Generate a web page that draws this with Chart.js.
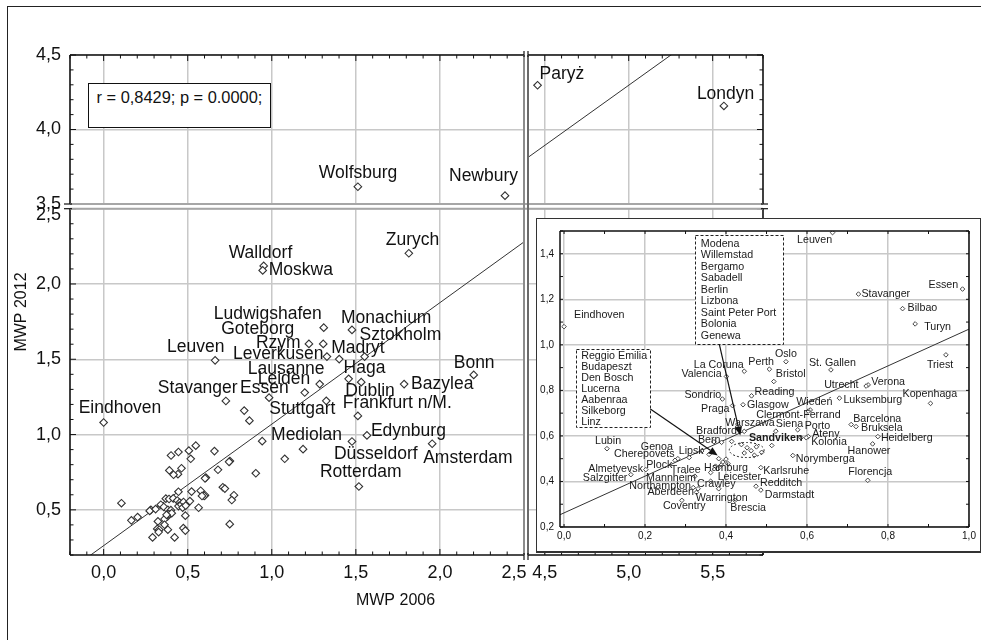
<!DOCTYPE html>
<html>
<head>
<meta charset="utf-8">
<script src="https://cdn.jsdelivr.net/npm/chart.js@4.4.1/dist/chart.umd.min.js"></script>
<style>
  html, body { margin: 0; padding: 0; background: #fff; overflow: hidden; }
  #fig { position: relative; width: 981px; height: 640px; overflow: hidden; background: #fff;
         font-family: "Liberation Sans", Arial, Helvetica, sans-serif; }
  #fig canvas.layer { position: absolute; left: 0; top: 0; }
  #frameTop { position: absolute; left: 7px; top: 6px; width: 974px; height: 1px; background: #222; }
  #frameLeft { position: absolute; left: 7px; top: 6px; width: 1px; height: 634px; background: #222; }
  #stats { position: absolute; left: 88px; top: 83px; width: 183px; height: 45px; box-sizing: border-box;
           border: 1.5px solid #111; background: #fff; color: #111; font-size: 16.4px; line-height: 20px;
           padding: 3px 0 0 7.5px; white-space: nowrap; }
  #inset { position: absolute; left: 536px; top: 218px; width: 445px; height: 335px; box-sizing: border-box;
           border: 1px solid #333; border-bottom-width: 2px; background: #fff; }
  #cE { position: absolute; left: 0; top: 0; }
</style>
</head>
<body>
<div id="fig">
  <div id="frameTop"></div>
  <div id="frameLeft"></div>
  <canvas id="cD" class="layer" width="981" height="640"></canvas>
  <canvas id="cA" class="layer" width="981" height="640"></canvas>
  <canvas id="cB" class="layer" width="981" height="640"></canvas>
  <canvas id="cC" class="layer" width="981" height="640"></canvas>
  <canvas id="over" class="layer" width="981" height="640"></canvas>
  <div id="stats"></div>
  <div id="inset"><canvas id="cE" width="443" height="332"></canvas></div>
</div>
<script>
// ---- data: MWP index per city, 2006 vs 2012 ----
const cities = [
  'Paryż','Londyn','Wolfsburg','Newbury',
  'Walldorf','Moskwa','Zurych','Ludwigshafen','Monachium','Goteborg','Rzym','Leverkusen','Sztokholm','Madryt',
  'Bonn','Haga','Dublin','Lausanne','Bazylea','Leiden','Stuttgart','Frankfurt n/M.','Edynburg','Düsseldorf',
  'Amsterdam','Mediolan','','Rotterdam',
  'Leuven','Eindhoven','Stavanger','Essen','Bilbao','Turyn','Triest','Oslo','Perth','St. Gallen','La Coruna',
  'Valencia','Bristol','Verona','Utrecht','Reading','Luksemburg','Sondrio','Kopenhaga','Glasgow','Praga',
  'Wiedeń','Clermont-Ferrand','Barcelona','Bruksela','Porto','Siena','Warszawa','Ateny','Heidelberg','Kolonia',
  'Sandviken','Bern','Bradford','Hanower','Lubin','Lipsk','Norymberga','Genoa','Cherepovets','Plock',
  'Karlsruhe','Hamburg','Almetyevsk','Leicester','Salzgitter','Tralee','Florencja','Crawley','Redditch',
  'Northampton','Mannheim','Warrington','Darmstadt','Aberdeen','Coventry','Brescia',
  'Modena','Willemstad','Bergamo','Sabadell','Berlin','Lizbona','Saint Peter Port','Bolonia','Genewa',
  'Reggio Emilia','Budapeszt','Den Bosch','Lucerna','Aabenraa','Silkeborg','Linz'
];
const mwp2006 = [
  4.457, 5.567, 1.512, 2.387,
  0.952, 0.946, 1.815, 1.309, 1.477, 1.306, 1.221, 1.328, 1.552, 1.401,
  2.201, 1.457, 1.532, 1.285, 1.787, 1.196, 1.324, 1.512, 1.566, 1.477,
  1.954, 1.186, 1.077, 1.518,
  0.663, 0.000, 0.727, 0.984, 0.836, 0.867, 0.943, 0.548, 0.507, 0.659, 0.445,
  0.401, 0.518, 0.751, 0.746, 0.463, 0.680, 0.391, 0.905, 0.442, 0.416,
  0.608, 0.603, 0.709, 0.721, 0.577, 0.523, 0.445, 0.603, 0.775, 0.598,
  0.585, 0.370, 0.389, 0.762, 0.106, 0.340, 0.565, 0.281, 0.274, 0.309,
  0.486, 0.380, 0.202, 0.362, 0.165, 0.323, 0.750, 0.362, 0.474,
  0.319, 0.331, 0.382, 0.486, 0.327, 0.291, 0.422,
  0.414, 0.438, 0.452, 0.445, 0.462, 0.475, 0.470, 0.488, 0.513,
  0.358, 0.382, 0.392, 0.400, 0.388, 0.405, 0.374
];
const mwp2012 = [
  4.297, 4.158, 3.616, 3.556,
  2.120, 2.090, 2.204, 1.710, 1.695, 1.602, 1.602, 1.518, 1.518, 1.501,
  1.396, 1.370, 1.348, 1.335, 1.335, 1.279, 1.224, 1.124, 0.994, 0.954,
  0.939, 0.903, 0.839, 0.655,
  1.493, 1.080, 1.223, 1.245, 1.159, 1.092, 0.956, 0.926, 0.893, 0.890, 0.884,
  0.861, 0.839, 0.824, 0.819, 0.776, 0.766, 0.762, 0.743, 0.737, 0.733,
  0.714, 0.709, 0.650, 0.641, 0.627, 0.621, 0.620, 0.597, 0.597, 0.592,
  0.592, 0.574, 0.572, 0.565, 0.544, 0.534, 0.514, 0.500, 0.493, 0.505,
  0.461, 0.456, 0.452, 0.439, 0.430, 0.423, 0.405, 0.401, 0.379,
  0.373, 0.368, 0.368, 0.362, 0.352, 0.317, 0.317,
  0.576, 0.562, 0.548, 0.525, 0.535, 0.552, 0.515, 0.528, 0.558,
  0.519, 0.500, 0.485, 0.498, 0.472, 0.478, 0.467
];
// fitted regression line MWP2012 = a + b * MWP2006
const fitIntercept = 0.262;
const fitSlope = 0.807;
const statsText = 'r = 0,8429; p = 0.0000;';
const xTitle = 'MWP 2006';
const yTitle = 'MWP 2012';

// tick labels
const ticksLowX = [0, 0.5, 1, 1.5, 2, 2.5];
const ticksHighX = [4.5, 5, 5.5];
const ticksLowY = [0.5, 1, 1.5, 2, 2.5];
const ticksHighY = [3.5, 4, 4.5];
const insetTicksX = [0, 0.2, 0.4, 0.6, 0.8, 1.0];
const insetTicksY = [0.2, 0.4, 0.6, 0.8, 1.0, 1.2, 1.4];

// cities listed in the two dashed boxes of the zoomed panel
const boxGroupA = ['Modena','Willemstad','Bergamo','Sabadell','Berlin','Lizbona','Saint Peter Port','Bolonia','Genewa'];
const boxGroupB = ['Reggio Emilia','Budapeszt','Den Bosch','Lucerna','Aabenraa','Silkeborg','Linz'];

// ---- label placement (pixel offsets of text from its marker) ----
const labelPlacementMain = {
  'Eindhoven': [-25, -14], 'Walldorf': [-35, -13], 'Moskwa': [6, 0], 'Leuven': [-48, -13.5],
  'Stavanger': [-68, -13], 'Essen': [-29, -9], 'Zurych': [-23, -13], 'Ludwigshafen': [-110, -13],
  'Goteborg': [-102, -15], 'Rzym': [-53, -1], 'Leverkusen': [-94, -2], 'Lausanne': [-72, -15],
  'Leiden': [-47, -13], 'Stuttgart': [-57, 8], 'Monachium': [-11, -12], 'Sztokholm': [-5, -21],
  'Madryt': [-8, -11], 'Haga': [-5, -11], 'Dublin': [-16, 9], 'Frankfurt n/M.': [-15, -13],
  'Bazylea': [7, 0], 'Bonn': [-20, -12], 'Mediolan': [-32, -14], 'Edynburg': [4, -4],
  'Düsseldorf': [-18, 13], 'Amsterdam': [-9, 14], 'Rotterdam': [-39, -14],
  'Wolfsburg': [-39, -14], 'Newbury': [-56, -19], 'Paryż': [2, -11], 'Londyn': [-27, -12]
};
const labelPlacementInset = {
  'Leuven': [-35.5, 7], 'Eindhoven': [10, -12], 'Stavanger': [3, 0], 'Essen': [-34, -4],
  'Bilbao': [5, -1], 'Turyn': [9, 3], 'Triest': [-19, 10], 'Oslo': [-11, -8], 'Perth': [-21, -7],
  'St. Gallen': [-22, -7], 'La Coruna': [-50.5, -6], 'Valencia': [-45, -2], 'Bristol': [2, -7],
  'Verona': [3, -3], 'Utrecht': [-42, -1], 'Reading': [3, -4], 'Luksemburg': [4, 2],
  'Sondrio': [-38, -4], 'Kopenhaga': [-28, -9], 'Glasgow': [4, 0], 'Praga': [-31.5, 3],
  'Wiedeń': [-14, -8], 'Clermont-Ferrand': [-52, 4], 'Warszawa': [-19, -8.5], 'Siena': [0, -7],
  'Porto': [7, -4], 'Barcelona': [2, -5], 'Bruksela': [5, 1], 'Ateny': [4, -3], 'Kolonia': [5, 4],
  'Sandviken': [-52, 0], 'Heidelberg': [3, 1], 'Hanower': [-25, 7], 'Norymberga': [3, 4],
  'Bradford': [-25.5, -11], 'Bern': [-16, -2], 'Lubin': [-12, -7.5], 'Lipsk': [-23, 0],
  'Genoa': [-37, -12], 'Cherepovets': [-61, -6], 'Plock': [-43, 8], 'Karlsruhe': [2.5, 3],
  'Hamburg': [-14, -1], 'Almetyevsk': [-57.5, -1], 'Leicester': [7, 4], 'Salzgitter': [-48, 3],
  'Tralee': [-24, -6.5], 'Florencja': [-19.5, -8], 'Crawley': [-13.6, 3], 'Redditch': [4, -3],
  'Northampton': [-64, -2], 'Mannheim': [-52, -11], 'Warrington': [-23, 9], 'Darmstadt': [4, 5],
  'Aberdeen': [-49, 0], 'Coventry': [-19, 6], 'Brescia': [-4.6, 8]
};

// annotation shapes of the zoomed panel, in data units
const noteBoxes = [
  { x0: 0.323, x1: 0.541, y0: 1.484, y1: 1.003, names: boxGroupA, padX: 6, first: 9.3, gap: 11.5 },
  { x0: 0.030, x1: 0.212, y0: 0.982, y1: 0.641, names: boxGroupB, padX: 5, first: 7.2, gap: 10.95 }
];
const noteArrows = [
  [0.3835, 1.002, 0.4353, 0.6017],
  [0.2131, 0.7183, 0.3795, 0.5144]
];
const noteRing = { x: 0.451, y: 0.538, rx: 0.043, ry: 0.033 };

// ---- helpers ----
const FONT = "'Liberation Sans', Arial, Helvetica, sans-serif";
Chart.defaults.font.family = FONT;
Chart.defaults.color = '#111';
const decimal = v => v.toFixed(1).replace('.', ',');
const points = cities.map((c, i) => ({ x: mwp2006[i], y: mwp2012[i] }));
const fitLine = (x0, x1) => [{ x: x0, y: fitIntercept + fitSlope * x0 }, { x: x1, y: fitIntercept + fitSlope * x1 }];

function linearAxis(min, max, tickValues, o) {
  return {
    type: 'linear', min, max,
    afterBuildTicks: s => { s.ticks = tickValues.map(v => ({ value: v })); },
    afterFit: s => { if (s.isHorizontal()) s.height = o.size; else s.width = o.size; },
    grid: { color: o.gridColor || '#c8c8c8', lineWidth: o.gridWidth || 1.5, drawTicks: false },
    border: { display: false },
    ticks: {
      display: !!o.labels, padding: o.padding || 0, autoSkip: false, maxRotation: 0, color: '#111',
      font: o.font || { size: 18 },
      callback: o.callback || (v => decimal(v))
    }
  };
}

// names written next to their markers
const pointNames = {
  id: 'pointNames',
  afterDatasetsDraw(chart, args, o) {
    const { ctx, chartArea: a } = chart;
    const meta = chart.getDatasetMeta(0);
    ctx.save();
    ctx.fillStyle = o.color;
    ctx.textBaseline = 'middle';
    ctx.textAlign = 'left';
    meta.data.forEach((el, i) => {
      const name = cities[i];
      const off = o.offsets[name];
      if (!off) return;
      if (el.x < a.left - 1 || el.x > a.right + 1 || el.y < a.top - 1 || el.y > a.bottom + 1) return;
      ctx.font = ((o.bold || []).includes(name) ? 'bold ' : '') + o.size + 'px ' + FONT;
      ctx.fillText(name, el.x + off[0], el.y + off[1]);
    });
    ctx.restore();
  }
};

// axis lines with inward minor/major tick marks
const edgeTicks = {
  id: 'edgeTicks',
  afterDraw(chart, args, o) {
    const { ctx, chartArea: a, scales: { x, y } } = chart;
    const marks = s => {
      const out = [];
      for (let n = Math.ceil(s.min / o.step - 1e-6); n <= Math.floor(s.max / o.step + 1e-6); n++) out.push(n * o.step);
      return out;
    };
    const isMajor = v => Math.abs(v / o.major - Math.round(v / o.major)) < 1e-6;
    ctx.save();
    ctx.strokeStyle = '#111';
    ctx.lineWidth = o.tickWidth;
    ctx.beginPath();
    for (const side of o.sides) {
      const horiz = side === 'top' || side === 'bottom';
      const s = horiz ? x : y;
      for (const v of marks(s)) {
        const p = s.getPixelForValue(v);
        const len = isMajor(v) ? o.majorLen : o.minorLen;
        if (side === 'left') { ctx.moveTo(a.left, p); ctx.lineTo(a.left + len, p); }
        if (side === 'right') { ctx.moveTo(a.right, p); ctx.lineTo(a.right - len, p); }
        if (side === 'top') { ctx.moveTo(p, a.top); ctx.lineTo(p, a.top + len); }
        if (side === 'bottom') { ctx.moveTo(p, a.bottom); ctx.lineTo(p, a.bottom - len); }
      }
    }
    ctx.stroke();
    ctx.lineWidth = o.lineWidth;
    ctx.beginPath();
    for (const side of o.sides) {
      if (side === 'left') { ctx.moveTo(a.left, a.top); ctx.lineTo(a.left, a.bottom); }
      if (side === 'right') { ctx.moveTo(a.right, a.top); ctx.lineTo(a.right, a.bottom); }
      if (side === 'top') { ctx.moveTo(a.left, a.top); ctx.lineTo(a.right, a.top); }
      if (side === 'bottom') { ctx.moveTo(a.left, a.bottom); ctx.lineTo(a.right, a.bottom); }
    }
    ctx.stroke();
    ctx.restore();
  }
};

function panel(id, cfg) {
  return new Chart(document.getElementById(id), {
    type: 'scatter',
    data: {
      datasets: [
        { data: points, pointStyle: 'rectRot', pointRadius: cfg.r, pointBorderWidth: cfg.bw,
          pointBackgroundColor: '#fff', pointBorderColor: '#333', order: 1 },
        { data: fitLine(cfg.x.min, cfg.x.max), showLine: true, pointRadius: 0,
          borderColor: '#333', borderWidth: 1, order: 2 }
      ]
    },
    options: {
      responsive: false, animation: false, events: [],
      layout: { padding: cfg.padding },
      scales: { x: cfg.x, y: cfg.y },
      plugins: {
        legend: { display: false }, tooltip: { enabled: false },
        pointNames: cfg.names,
        edgeTicks: cfg.edges
      }
    },
    plugins: [pointNames, edgeTicks, ...(cfg.extra || [])]
  });
}

const mainNames = { offsets: labelPlacementMain, size: 17.5, color: '#111' };
const mainEdges = (sides) => ({ sides, step: 0.1, major: 0.5, minorLen: 3.5, majorLen: 6, tickWidth: 1, lineWidth: 1.6 });

// lower right (hidden mostly behind the zoom panel)
const chartD = panel('cD', {
  r: 3.8, bw: 1.1,
  padding: { left: 528, top: 208.7, right: 218, bottom: 0 },
  x: linearAxis(4.4, 5.8, ticksHighX, { size: 85, labels: true, padding: 7 }),
  y: linearAxis(0.2, 2.5, ticksLowY, { size: 0 }),
  names: mainNames, edges: mainEdges(['bottom', 'right'])
});
// lower left, main body
const chartA = panel('cA', {
  r: 3.8, bw: 1.1,
  padding: { left: 0, top: 208.7, right: 457, bottom: 0 },
  x: linearAxis(-0.2, 2.5, ticksLowX, { size: 85, labels: true, padding: 7,
       callback: v => v === 2.5 ? '2,5\u00a0\u00a0\u00a0\u00a0' : decimal(v) }),
  y: linearAxis(0.2, 2.5, ticksLowY, { size: 70, labels: true, padding: 9,
       callback: v => v === 2.5 ? ['', '2,5'] : decimal(v),
       font: ctx => ({ size: 18, lineHeight: ctx.tick && ctx.tick.value === 2.5 ? 0.72 : 1.2 }) }),
  names: mainNames, edges: mainEdges(['left', 'bottom'])
});
// upper left
const chartB = panel('cB', {
  r: 3.8, bw: 1.1,
  padding: { left: 0, top: 55, right: 457, bottom: 436 },
  x: linearAxis(-0.2, 2.5, ticksLowX, { size: 0 }),
  y: linearAxis(3.5, 4.5, ticksHighY, { size: 70, labels: true, padding: 9 }),
  names: mainNames, edges: mainEdges(['left', 'top'])
});
// upper right
const chartC = panel('cC', {
  r: 3.8, bw: 1.1,
  padding: { left: 528, top: 55, right: 218, bottom: 436 },
  x: linearAxis(4.4, 5.8, ticksHighX, { size: 0 }),
  y: linearAxis(3.5, 4.5, ticksHighY, { size: 0 }),
  names: mainNames, edges: mainEdges(['top', 'right'])
});

// axis breaks and axis titles
(function drawOverlay() {
  const ctx = document.getElementById('over').getContext('2d');
  const lo = chartA.chartArea, up = chartB.chartArea, rt = chartD.chartArea;
  const seg = (x0, y0, x1, y1) => { ctx.beginPath(); ctx.moveTo(x0, y0); ctx.lineTo(x1, y1); ctx.stroke(); };
  ctx.lineWidth = 2;
  ctx.strokeStyle = '#a6a6a6';
  seg(lo.left, up.bottom, rt.right, up.bottom);
  seg(lo.left, lo.top, rt.right, lo.top);
  ctx.strokeStyle = '#8c8c8c';
  seg(lo.right, up.top, lo.right, lo.bottom);
  ctx.strokeStyle = '#6a6a6a';
  seg(rt.left, up.top, rt.left, lo.bottom);
  ctx.strokeStyle = '#111';
  ctx.lineWidth = 1.2;
  [up.bottom, lo.top].forEach(yy => { seg(lo.left - 6, yy, lo.left + 2, yy); seg(rt.right - 2, yy, rt.right + 5, yy); });
  [lo.right, rt.left].forEach(xx => { seg(xx, lo.bottom - 2, xx, lo.bottom + 5); seg(xx, up.top - 4, xx, up.top + 2); });

  ctx.fillStyle = '#111';
  ctx.font = '16px ' + FONT;
  ctx.textAlign = 'center';
  ctx.textBaseline = 'middle';
  ctx.fillText(xTitle, 395.5, 601);
  ctx.save();
  ctx.translate(22, 312);
  ctx.rotate(-Math.PI / 2);
  ctx.fillText(yTitle, 0, 0);
  ctx.restore();
})();

document.getElementById('stats').textContent = statsText;

// zoomed panel: dashed boxes, arrows, ring
const insetNotes = {
  id: 'insetNotes',
  afterDatasetsDraw(chart) {
    const { ctx, scales: { x, y } } = chart;
    const X = v => x.getPixelForValue(v), Y = v => y.getPixelForValue(v);
    ctx.save();
    ctx.strokeStyle = '#222';
    ctx.lineWidth = 1;
    ctx.setLineDash([3, 2]);
    noteBoxes.forEach(b => {
      const l = Math.round(X(b.x0)) + 0.5, t = Math.round(Y(b.y0)) + 0.5;
      const r = Math.round(X(b.x1)) + 0.5, btm = Math.round(Y(b.y1)) + 0.5;
      ctx.fillStyle = '#fff';
      ctx.fillRect(l, t, r - l, btm - t);
      ctx.strokeRect(l, t, r - l, btm - t);
    });
    ctx.setLineDash([2, 2]);
    ctx.beginPath();
    const cx = X(noteRing.x), cy = Y(noteRing.y);
    ctx.ellipse(cx, cy, X(noteRing.x + noteRing.rx) - cx, cy - Y(noteRing.y + noteRing.ry), 0, 0, Math.PI * 2);
    ctx.stroke();
    ctx.setLineDash([]);

    ctx.fillStyle = '#1a1a1a';
    ctx.font = '10.7px ' + FONT;
    ctx.textBaseline = 'middle';
    ctx.textAlign = 'left';
    noteBoxes.forEach(b => {
      const l = X(b.x0), t = Y(b.y0);
      b.names.forEach((n, i) => ctx.fillText(n, l + b.padX, t + b.first + i * b.gap));
    });

    ctx.strokeStyle = '#111';
    ctx.fillStyle = '#111';
    ctx.lineWidth = 1.2;
    noteArrows.forEach(([ax, ay, bx, by]) => {
      const x0 = X(ax), y0 = Y(ay), x1 = X(bx), y1 = Y(by);
      const ang = Math.atan2(y1 - y0, x1 - x0);
      const len = 9, half = 3.8;
      const hx = x1 - len * Math.cos(ang), hy = y1 - len * Math.sin(ang);
      ctx.beginPath(); ctx.moveTo(x0, y0); ctx.lineTo(hx, hy); ctx.stroke();
      ctx.beginPath();
      ctx.moveTo(x1, y1);
      ctx.lineTo(hx + half * Math.sin(ang), hy - half * Math.cos(ang));
      ctx.lineTo(hx - half * Math.sin(ang), hy + half * Math.cos(ang));
      ctx.closePath();
      ctx.fill();
    });
    ctx.restore();
  }
};

const chartE = new Chart(document.getElementById('cE'), {
  type: 'scatter',
  data: {
    datasets: [
      { data: points, pointStyle: 'rectRot', pointRadius: 2.3, pointBorderWidth: 0.9,
        pointBackgroundColor: '#fff', pointBorderColor: '#333', order: 1 },
      { data: fitLine(-0.01, 1.0), showLine: true, pointRadius: 0, borderColor: '#333', borderWidth: 1, order: 2 }
    ]
  },
  options: {
    responsive: false, animation: false, events: [],
    layout: { padding: { left: 0, top: 9, right: 11, bottom: 0 } },
    scales: {
      x: linearAxis(-0.01, 1.0, insetTicksX, { size: 24, labels: true, padding: 3, font: { size: 10 } }),
      y: linearAxis(0.2, 1.5, insetTicksY, { size: 23, labels: true, padding: 6, font: { size: 10 } })
    },
    plugins: {
      legend: { display: false }, tooltip: { enabled: false },
      pointNames: { offsets: labelPlacementInset, size: 10.7, color: '#1a1a1a', bold: ['Sandviken'] },
      edgeTicks: { sides: ['left', 'right', 'top', 'bottom'], step: 0.1, major: 0.2, minorLen: 3, majorLen: 3,
                   tickWidth: 1, lineWidth: 1.5 }
    }
  },
  plugins: [insetNotes, pointNames, edgeTicks]
});
</script>
</body>
</html>
